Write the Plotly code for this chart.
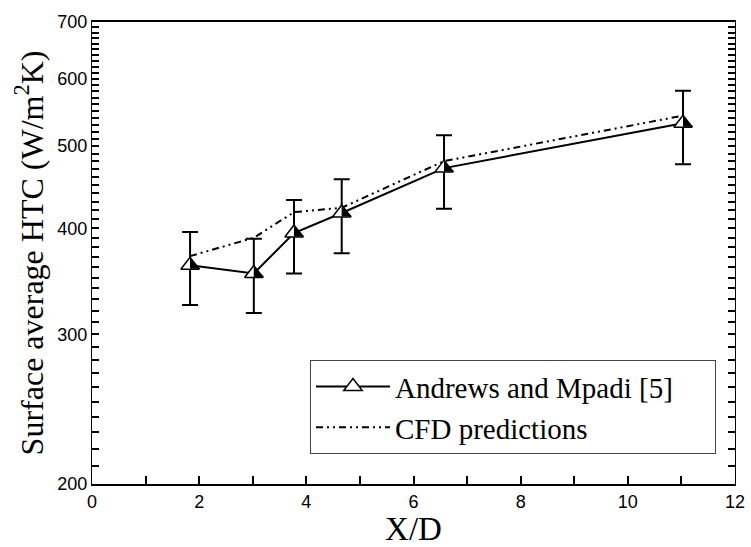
import plotly.graph_objects as go
import numpy as np

# Data
xd = [1.83, 3.02, 3.77, 4.66, 6.57, 11.03]
exp_htc = [362, 354, 395, 417, 471, 532]
exp_err_up = [396, 389, 432, 457, 515, 581]
exp_err_dn = [325, 318, 354, 374, 422, 476]
cfd_htc = [371, 390, 418, 423, 480, 543]

x_ticks = [0, 2, 4, 6, 8, 10, 12]
y_ticks = [200, 300, 400, 500, 600, 700]
y_minor_ticks = list(range(200, 701, 10))

err_plus = [u - v for u, v in zip(exp_err_up, exp_htc)]
err_minus = [v - d for v, d in zip(exp_htc, exp_err_dn)]

serif = "Liberation Serif, Times New Roman, serif"
sans = "Liberation Sans, Arial, sans-serif"
pad = "\u00a0" * 5

# small horizontal offset (in x units) so the black half-triangle sits on the right half
px_per_unit = (735 - 92) / 12.0
half_shift = 3.4 / px_per_unit
xd_half = [v + half_shift for v in xd]

fig = go.Figure()

fig.add_trace(go.Scatter(
    x=xd, y=cfd_htc, mode="lines", name="CFD predictions" + pad,
    line=dict(color="black", width=2, dash="7px,4px,2px,4px,2px,4px"),
))
fig.add_trace(go.Scatter(
    x=xd, y=exp_htc, mode="lines+markers", name="Andrews and Mpadi [5]" + pad,
    line=dict(color="black", width=2),
    marker=dict(symbol="triangle-up", size=16, color="white",
                line=dict(color="black", width=1.5)),
    error_y=dict(type="data", symmetric=False, array=err_plus,
                 arrayminus=err_minus, color="black", thickness=2, width=8),
))
fig.add_trace(go.Scatter(
    x=xd_half, y=exp_htc, mode="markers", showlegend=False, hoverinfo="skip",
    marker=dict(symbol="triangle-sw", size=11.5, color="black",
                line=dict(width=0)),
))

yrange = [np.log10(200), np.log10(700)]

fig.update_layout(
    width=751, height=547,
    margin=dict(l=92, r=16, t=22, b=63, autoexpand=False),
    plot_bgcolor="white", paper_bgcolor="white",
    showlegend=True,
    legend=dict(
        x=0.339, y=0.268, xanchor="left", yanchor="top",
        bordercolor="#444", borderwidth=1, bgcolor="white",
        font=dict(family=serif, size=29, color="black"),
        traceorder="reversed", itemwidth=74, tracegroupgap=0,
    ),
    xaxis=dict(
        range=[0, 12], tickvals=x_ticks, ticks="inside", ticklen=8,
        tickwidth=1.5, tickcolor="black", showline=True, linewidth=2,
        linecolor="black", mirror=True, showgrid=False, zeroline=False,
        minor=dict(dtick=1, ticks="inside", ticklen=8, tickwidth=1.5,
                   tickcolor="black", showgrid=False),
        tickfont=dict(family=sans, size=18, color="black"),
        title=dict(text="X/D", font=dict(family=serif, size=33, color="black"),
                   standoff=2),
    ),
    yaxis=dict(
        type="log", range=yrange, tickmode="array", tickvals=y_minor_ticks,
        ticktext=[str(v) if v in y_ticks else "" for v in y_minor_ticks],
        ticks="inside", ticklen=7, tickwidth=2, tickcolor="black",
        showline=True, linecolor="black", mirror="ticks",
        tickfont=dict(family=sans, size=18, color="black"),
        title=dict(text="Surface average HTC (W/m<sup>2</sup>K)",
                   font=dict(family=serif, size=32, color="black"), standoff=4),
    ),
)

fig.write_html("out.html")
